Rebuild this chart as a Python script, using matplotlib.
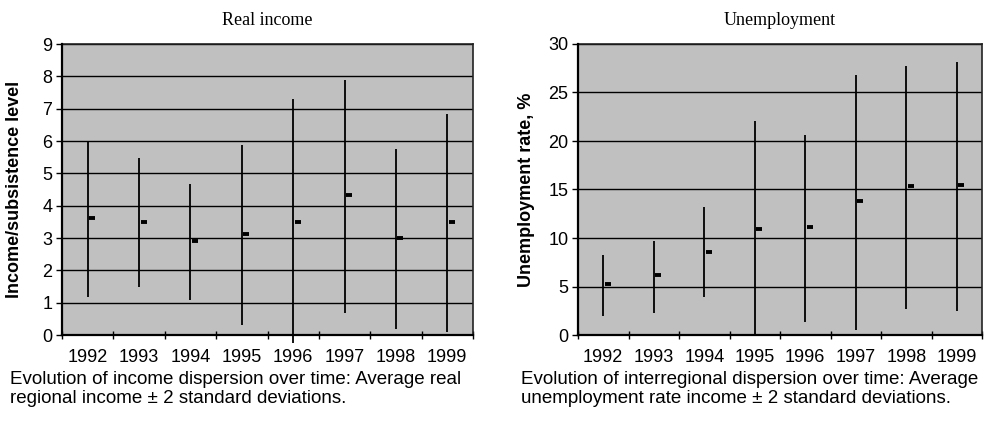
import matplotlib
matplotlib.use("Agg")
import matplotlib.pyplot as plt
from matplotlib import markers
import numpy as np

years = ["1992", "1993", "1994", "1995", "1996", "1997", "1998", "1999"]

income_high = [6.0, 5.48, 4.67, 5.87, 7.29, 7.89, 5.76, 6.85]
income_low = [1.19, 1.47, 1.07, 0.31, -0.25, 0.69, 0.2, 0.09]
income_mean = [3.61, 3.51, 2.91, 3.12, 3.51, 4.32, 3.01, 3.51]

unemp_high = [8.26, 9.7, 13.2, 22.1, 20.6, 26.8, 27.76, 28.17]
unemp_low = [1.96, 2.3, 3.96, 0.0, 1.38, 0.52, 2.68, 2.48]
unemp_mean = [5.3, 6.23, 8.6, 10.94, 11.1, 13.86, 15.34, 15.48]

W, H = 986, 423
fig = plt.figure(figsize=(W / 100, H / 100), dpi=100)

sans = ["Liberation Sans", "DejaVu Sans"]
serif = ["Liberation Serif", "DejaVu Serif"]


def px_rect(x0, x1, y0, y1):
    return [x0 / W, 1 - y1 / H, (x1 - x0) / W, (y1 - y0) / H]


def draw(ax, high, low, mean, ymax, ystep, ylabel, title, labx):
    n = len(years)
    x = np.arange(n)
    ax.set_facecolor("#c0c0c0")
    ax.set_xlim(-0.5, n - 0.5)
    ax.set_ylim(0, ymax)
    yt = np.arange(0, ymax + 0.001, ystep)
    ax.set_yticks(yt)
    ax.set_yticklabels([f"{v:g}" for v in yt], fontsize=13, family=sans)
    for v in yt[1:]:
        ax.axhline(v, color="black", lw=1.0, zorder=1)
    ax.vlines(x, low, high, color="black", lw=1.3, zorder=3, clip_on=False)
    ax.plot(x + 0.03, mean, linestyle="none", marker=markers.TICKRIGHT,
            markersize=4, markeredgewidth=2.8, color="black", zorder=4)
    ax.set_xticks(np.arange(-0.5, n, 1.0))
    ax.set_xticklabels([])
    ax.set_xticks(x, minor=True)
    ax.set_xticklabels(years, minor=True, fontsize=13, family=sans)
    ax.tick_params(axis="x", which="major", direction="inout", length=6,
                   width=1.0, color="black")
    ax.tick_params(axis="x", which="minor", length=0, pad=10)
    ax.tick_params(axis="y", direction="out", length=4, width=1.0, pad=3)
    for s in ["left", "bottom"]:
        ax.spines[s].set_linewidth(1.6)
        ax.spines[s].set_color("black")
        ax.spines[s].set_zorder(5)
    for s in ["top", "right"]:
        ax.spines[s].set_linewidth(1.2)
        ax.spines[s].set_color("#222222")
    ax.set_ylabel(ylabel, fontsize=13, fontweight="bold", family=sans)
    ax.yaxis.set_label_coords(labx, 0.5)
    ax.set_title(title, fontsize=13, family=serif, pad=14)


ax1 = fig.add_axes(px_rect(62, 473, 44, 335))
draw(ax1, income_high, income_low, income_mean, 9, 1,
     "Income/subsistence level", "Real income", -0.095)

ax2 = fig.add_axes(px_rect(578, 982, 44, 335))
draw(ax2, unemp_high, unemp_low, unemp_mean, 30, 5,
     "Unemployment rate, %", "Unemployment", -0.106)

fig.text(10 / W, 1 - 389 / H,
         "Evolution of income dispersion over time: Average real\nregional income \u00b1 2 standard deviations.",
         fontsize=13.5, family=sans, va="center", ha="left", linespacing=1.12)
fig.text(521 / W, 1 - 389 / H,
         "Evolution of interregional dispersion over time: Average\nunemployment rate income \u00b1 2 standard deviations.",
         fontsize=13.5, family=sans, va="center", ha="left", linespacing=1.12)

fig.savefig("out.png", dpi=100, facecolor="white")
